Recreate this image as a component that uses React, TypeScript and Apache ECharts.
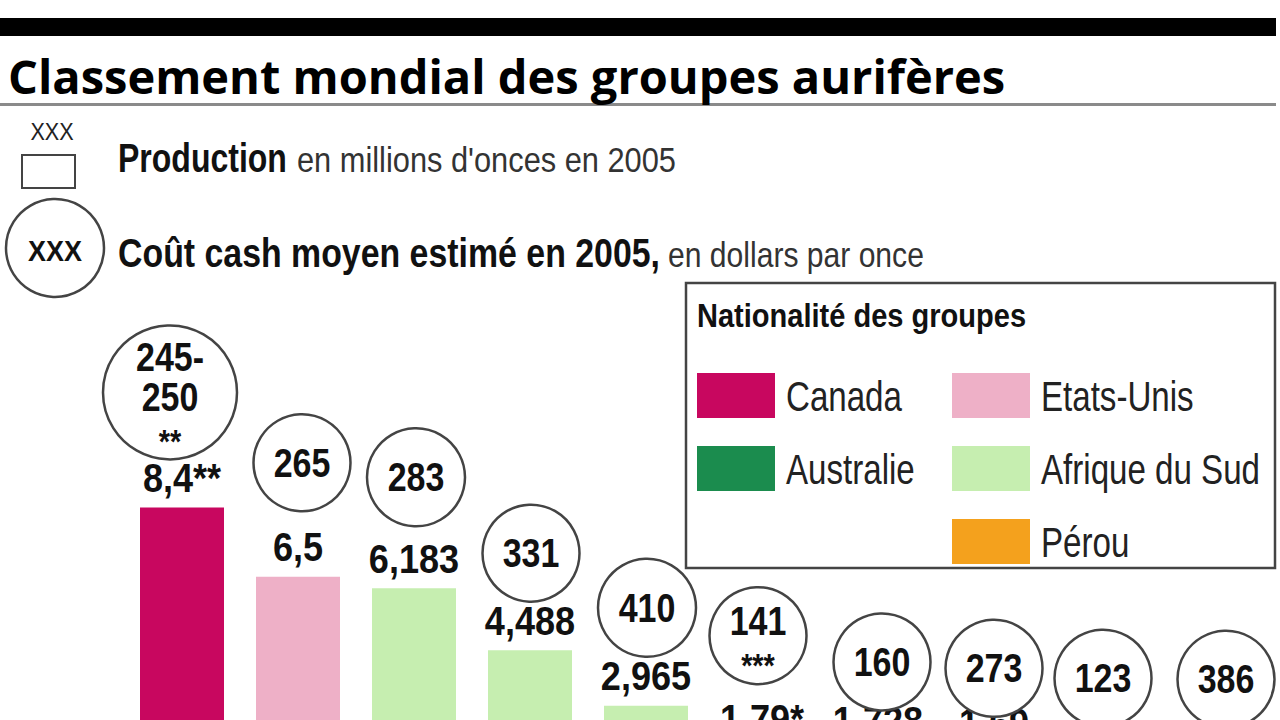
import React, { useEffect, useRef } from "react";
import * as echarts from "echarts";

// ---- Data ----
const RANKS = ["1", "2", "3", "4", "5", "6", "7", "8", "9", "10"];
const PRODUCTION = [8.4, 6.5, 6.183, 4.488, 2.965, 1.79, 1.728, 1.69, 1.31, 1.28];
const PRODUCTION_LABELS = ["8,4**", "6,5", "6,183", "4,488", "2,965", "1,79*", "1,728", "1,69", "1,31", "1,28"];
const CASH_COST_LABELS = ["245-\n250\n**", "265", "283", "331", "410", "141\n***", "160", "273", "123", "386"];
const NATIONALITY = [
  "Canada", "Etats-Unis", "Afrique du Sud", "Afrique du Sud", "Afrique du Sud",
  "Pérou", "Canada", "Canada", "Australie", "Australie",
];
const LEGEND_ORDER = ["Canada", "Australie", "Etats-Unis", "Afrique du Sud", "Pérou"];

// ---- Styles / layout ----
const COLORS: Record<string, string> = {
  Canada: "#C8075F",
  "Etats-Unis": "#EEB0C7",
  Australie: "#1B8C4E",
  "Afrique du Sud": "#C6EEB0",
  "Pérou": "#F4A11D",
};
const LEGEND_POS: Record<string, [number, number]> = {
  Canada: [697, 373],
  Australie: [697, 446],
  "Etats-Unis": [952, 373],
  "Afrique du Sud": [952, 446],
  "Pérou": [952, 519],
};
// circle offsets (px) from bar top, and diameters
const CIRCLE_OFFSET: [number, number][] = [
  [-12, -115], [4, -114], [2, -111], [1, -97], [1, -98],
  [-4, -113], [4, -89], [0, -84], [-7, -88], [0, -88],
];
const CIRCLE_SIZE = [134, 97, 98, 97, 98, 97, 97, 97, 97, 97];

const SANS = "'Liberation Sans', Arial, sans-serif";
const TITLE_FONT = "'Open Sans', 'Lato', sans-serif";

function txt(x: number, y: number, text: string, font: string, scaleX: number, fill = "#111", align = "left", z = 2) {
  return {
    type: "text",
    x,
    y,
    scaleX,
    z,
    style: {
      text,
      font,
      fill,
      align,
      textAlign: align,
      verticalAlign: "middle",
      textVerticalAlign: "middle",
    },
  };
}

export default function App() {
  const ref = useRef<HTMLDivElement>(null);

  useEffect(() => {
    if (!ref.current) return;
    const chart = echarts.init(ref.current, null, { renderer: "svg" });

    const legendGraphics: any[] = [];
    LEGEND_ORDER.forEach((name) => {
      const [x, y] = LEGEND_POS[name];
      legendGraphics.push({
        type: "rect",
        z: 2,
        shape: { x, y, width: 78, height: 45 },
        style: { fill: COLORS[name] },
      });
      legendGraphics.push(txt(x + 89, y + 23, name, `400 43px ${SANS}`, 0.77, "#222"));
    });

    const option: any = {
      animation: false,
      backgroundColor: "#fff",
      grid: { left: 124, top: 449, width: 1160, height: 365, containLabel: false },
      xAxis: { type: "category", data: RANKS, show: false },
      yAxis: { type: "value", min: 0, max: 10, show: false, splitLine: { show: false } },
      series: [
        {
          type: "bar",
          barWidth: 84,
          data: PRODUCTION.map((v, i) => ({
            value: v,
            itemStyle: { color: COLORS[NATIONALITY[i]] },
          })),
          z: 2,
        },
        {
          type: "custom",
          data: PRODUCTION.map((v, i) => [i, v]),
          encode: { x: 0, y: 1 },
          clip: false,
          z: 3,
          renderItem: (params: any, api: any) => {
            const i = params.dataIndex;
            const pt = api.coord([api.value(0), api.value(1)]);
            const [dx, dy] = CIRCLE_OFFSET[i];
            const cx = pt[0] + dx;
            const cy = pt[1] + dy;
            const children: any[] = [];
            children.push(
              txt(pt[0], pt[1] - 30, PRODUCTION_LABELS[i], `700 41px ${SANS}`, 0.88, "#111", "center")
            );
            children.push({
              type: "circle",
              shape: { cx, cy, r: CIRCLE_SIZE[i] / 2 },
              style: { fill: "#fff", stroke: "#444", lineWidth: 2.5 },
            });
            const lines = CASH_COST_LABELS[i].split("\n");
            const n = lines.length;
            const lh = 40;
            const shift = n > 1 ? 5 : 0;
            lines.forEach((line, k) => {
              let y = cy + (k - (n - 1) / 2) * lh + shift;
              const isStars = /^\*+$/.test(line);
              if (isStars) y += 4;
              children.push(
                txt(cx, y, line, isStars ? `700 34px ${SANS}` : `700 40px ${SANS}`, 0.85, "#111", "center")
              );
            });
            return { type: "group", children };
          },
        },
      ],
      graphic: [
        { type: "rect", shape: { x: 0, y: 18, width: 1276, height: 18 }, style: { fill: "#000" } },
        txt(8, 76, "Classement mondial des groupes aurifères", `700 47px ${TITLE_FONT}`, 1, "#000"),
        { type: "rect", shape: { x: 0, y: 103, width: 1276, height: 3 }, style: { fill: "#8a8a8a" } },
        // legend: production
        txt(52, 132, "XXX", `400 24px ${SANS}`, 0.9, "#222", "center"),
        {
          type: "rect",
          shape: { x: 22, y: 155, width: 53, height: 33 },
          style: { fill: "#fff", stroke: "#444", lineWidth: 2 },
        },
        txt(118, 158, "Production", `700 40px ${SANS}`, 0.8, "#111"),
        txt(297, 160, "en millions d'onces en 2005", `400 35px ${SANS}`, 0.88, "#333"),
        // legend: cash cost
        {
          type: "circle",
          shape: { cx: 55, cy: 248, r: 49 },
          style: { fill: "#fff", stroke: "#444", lineWidth: 2.5 },
        },
        txt(55, 250, "XXX", `700 30px ${SANS}`, 0.9, "#111", "center"),
        txt(118, 253, "Coût cash moyen estimé en 2005,", `700 41px ${SANS}`, 0.826, "#111"),
        txt(668, 255, "en dollars par once", `400 35px ${SANS}`, 0.86, "#333"),
        // nationality legend box
        {
          type: "rect",
          shape: { x: 686, y: 283, width: 589, height: 285 },
          style: { fill: "#fff", stroke: "#444", lineWidth: 2.5 },
          z: 1,
        },
        txt(697, 316, "Nationalité des groupes", `700 33px ${SANS}`, 0.88, "#111"),
        ...legendGraphics,
      ],
    };

    chart.setOption(option);
    return () => chart.dispose();
  }, []);

  return (
    <div
      style={{
        position: "fixed",
        left: 0,
        top: 0,
        width: 1280,
        height: 720,
        overflow: "hidden",
        background: "#fff",
      }}
    >
      <div ref={ref} style={{ width: 1300, height: 900 }} />
    </div>
  );
}
